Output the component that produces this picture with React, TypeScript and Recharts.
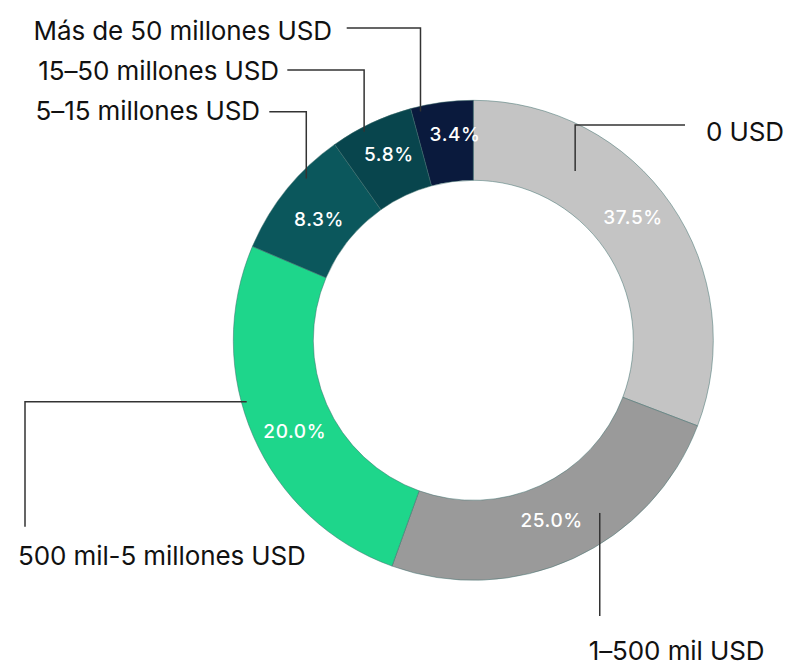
import React from 'react';
import { PieChart, Pie, Cell } from 'recharts';

const categories = [
  '0 USD',
  '1–500 mil USD',
  '500 mil-5 millones USD',
  '5–15 millones USD',
  '15–50 millones USD',
  'Más de 50 millones USD',
];
const shares = [30.8, 24.7, 25.9, 8.8, 5.6, 4.2];
const percentLabels = ['37.5%', '25.0%', '20.0%', '8.3%', '5.8%', '3.4%'];
const colors = ['#c4c4c4', '#9a9a9a', '#1ed68b', '#0b575c', '#08454d', '#0a1a3d'];

const data = categories.map((name, i) => ({ name, value: shares[i], pct: percentLabels[i] }));

type Leader = {
  frac: number;
  r: number;
  mode: 'vh' | 'v' | 'hv';
  bx: number;
  by: number;
  tx: number;
  ty: number;
  anchor: 'start' | 'end';
};

// leader-line layout (offsets relative to the pie centre)
const leaders: Leader[] = [
  { frac: 0.28, r: 197.5, mode: 'vh', bx: 211.7, by: -215.3, tx: 232.7, ty: -199.3, anchor: 'start' },
  { frac: 0.37, r: 214, mode: 'v', bx: 0, by: 275.7, tx: -11, ty: 319.2, anchor: 'start' },
  { frac: 0.59, r: 234.8, mode: 'hv', bx: -448.3, by: 186.4, tx: -455.3, ty: 224.7, anchor: 'start' },
  { frac: 0.665, r: 232.6, mode: 'vh', bx: -204, by: -228.6, tx: -213.3, ty: -220.3, anchor: 'end' },
  { frac: 0.38, r: 235.5, mode: 'vh', bx: -186, by: -270.3, tx: -194.3, ty: -260.3, anchor: 'end' },
  { frac: 0.14, r: 234.7, mode: 'vh', bx: -126.6, by: -312.3, tx: -141.3, ty: -300.3, anchor: 'end' },
];

// small placement tweaks for the percentage labels (degrees clockwise, radius)
const pctAngleShift = [-3.0, 1.1, -3.4, -0.6, 0.85, 2.5];
const pctRadius = [201.5, 196, 200.3, 196.5, 204.8, 207];

const RAD = Math.PI / 180;
const FONT = 'Inter, "Noto Sans", sans-serif';

const renderLabel = (props: any) => {
  const { cx, cy, midAngle, startAngle, endAngle, index, payload } = props;
  const pa = midAngle - pctAngleShift[index];
  const pr = pctRadius[index];
  const px = cx + pr * Math.cos(-pa * RAD);
  const py = cy + pr * Math.sin(-pa * RAD);
  const L = leaders[index];
  const ang = startAngle + L.frac * (endAngle - startAngle);
  const ax = cx + L.r * Math.cos(-ang * RAD);
  const ay = cy + L.r * Math.sin(-ang * RAD);
  let pts: number[][];
  let textX: number;
  if (L.mode === 'vh') {
    pts = [[ax, ay], [ax, cy + L.by], [cx + L.bx, cy + L.by]];
    textX = cx + L.tx;
  } else if (L.mode === 'hv') {
    pts = [[ax, ay], [cx + L.bx, ay], [cx + L.bx, cy + L.by]];
    textX = cx + L.tx;
  } else {
    pts = [[ax, ay], [ax, cy + L.by]];
    textX = ax + L.tx;
  }
  const name = payload?.name ?? categories[index];
  const pct = payload?.pct ?? percentLabels[index];
  return (
    <g key={`lbl-${index}`}>
      <text
        x={px}
        y={py + 7}
        textAnchor="middle"
        fill="#ffffff"
        fontSize={19}
        fontFamily={FONT}
        fontWeight={500}
        letterSpacing={0.6}
      >
        {pct}
      </text>
      <polyline
        points={pts.map((p) => p.join(',')).join(' ')}
        fill="none"
        stroke="#333333"
        strokeWidth={1.5}
      />
      <text
        x={textX}
        y={cy + L.ty}
        textAnchor={L.anchor}
        fill="#111111"
        fontSize={26}
        fontFamily={FONT}
        letterSpacing={-0.1}
      >
        {name}
      </text>
    </g>
  );
};

export default function App() {
  return (
    <div style={{ position: 'absolute', left: 0, top: 0, width: 796, height: 663, background: '#ffffff' }}>
      <PieChart width={796} height={663} margin={{ top: 0, right: 0, bottom: 0, left: 0 }}>
        <Pie
          data={data}
          dataKey="value"
          nameKey="name"
          cx={473.3}
          cy={340.3}
          innerRadius={160}
          outerRadius={240}
          startAngle={90}
          endAngle={-270}
          stroke="#3f6f6c"
          strokeWidth={0.5}
          label={renderLabel}
          labelLine={false}
          isAnimationActive={false}
        >
          {data.map((d, i) => (
            <Cell key={d.name} fill={colors[i]} />
          ))}
        </Pie>
      </PieChart>
    </div>
  );
}
